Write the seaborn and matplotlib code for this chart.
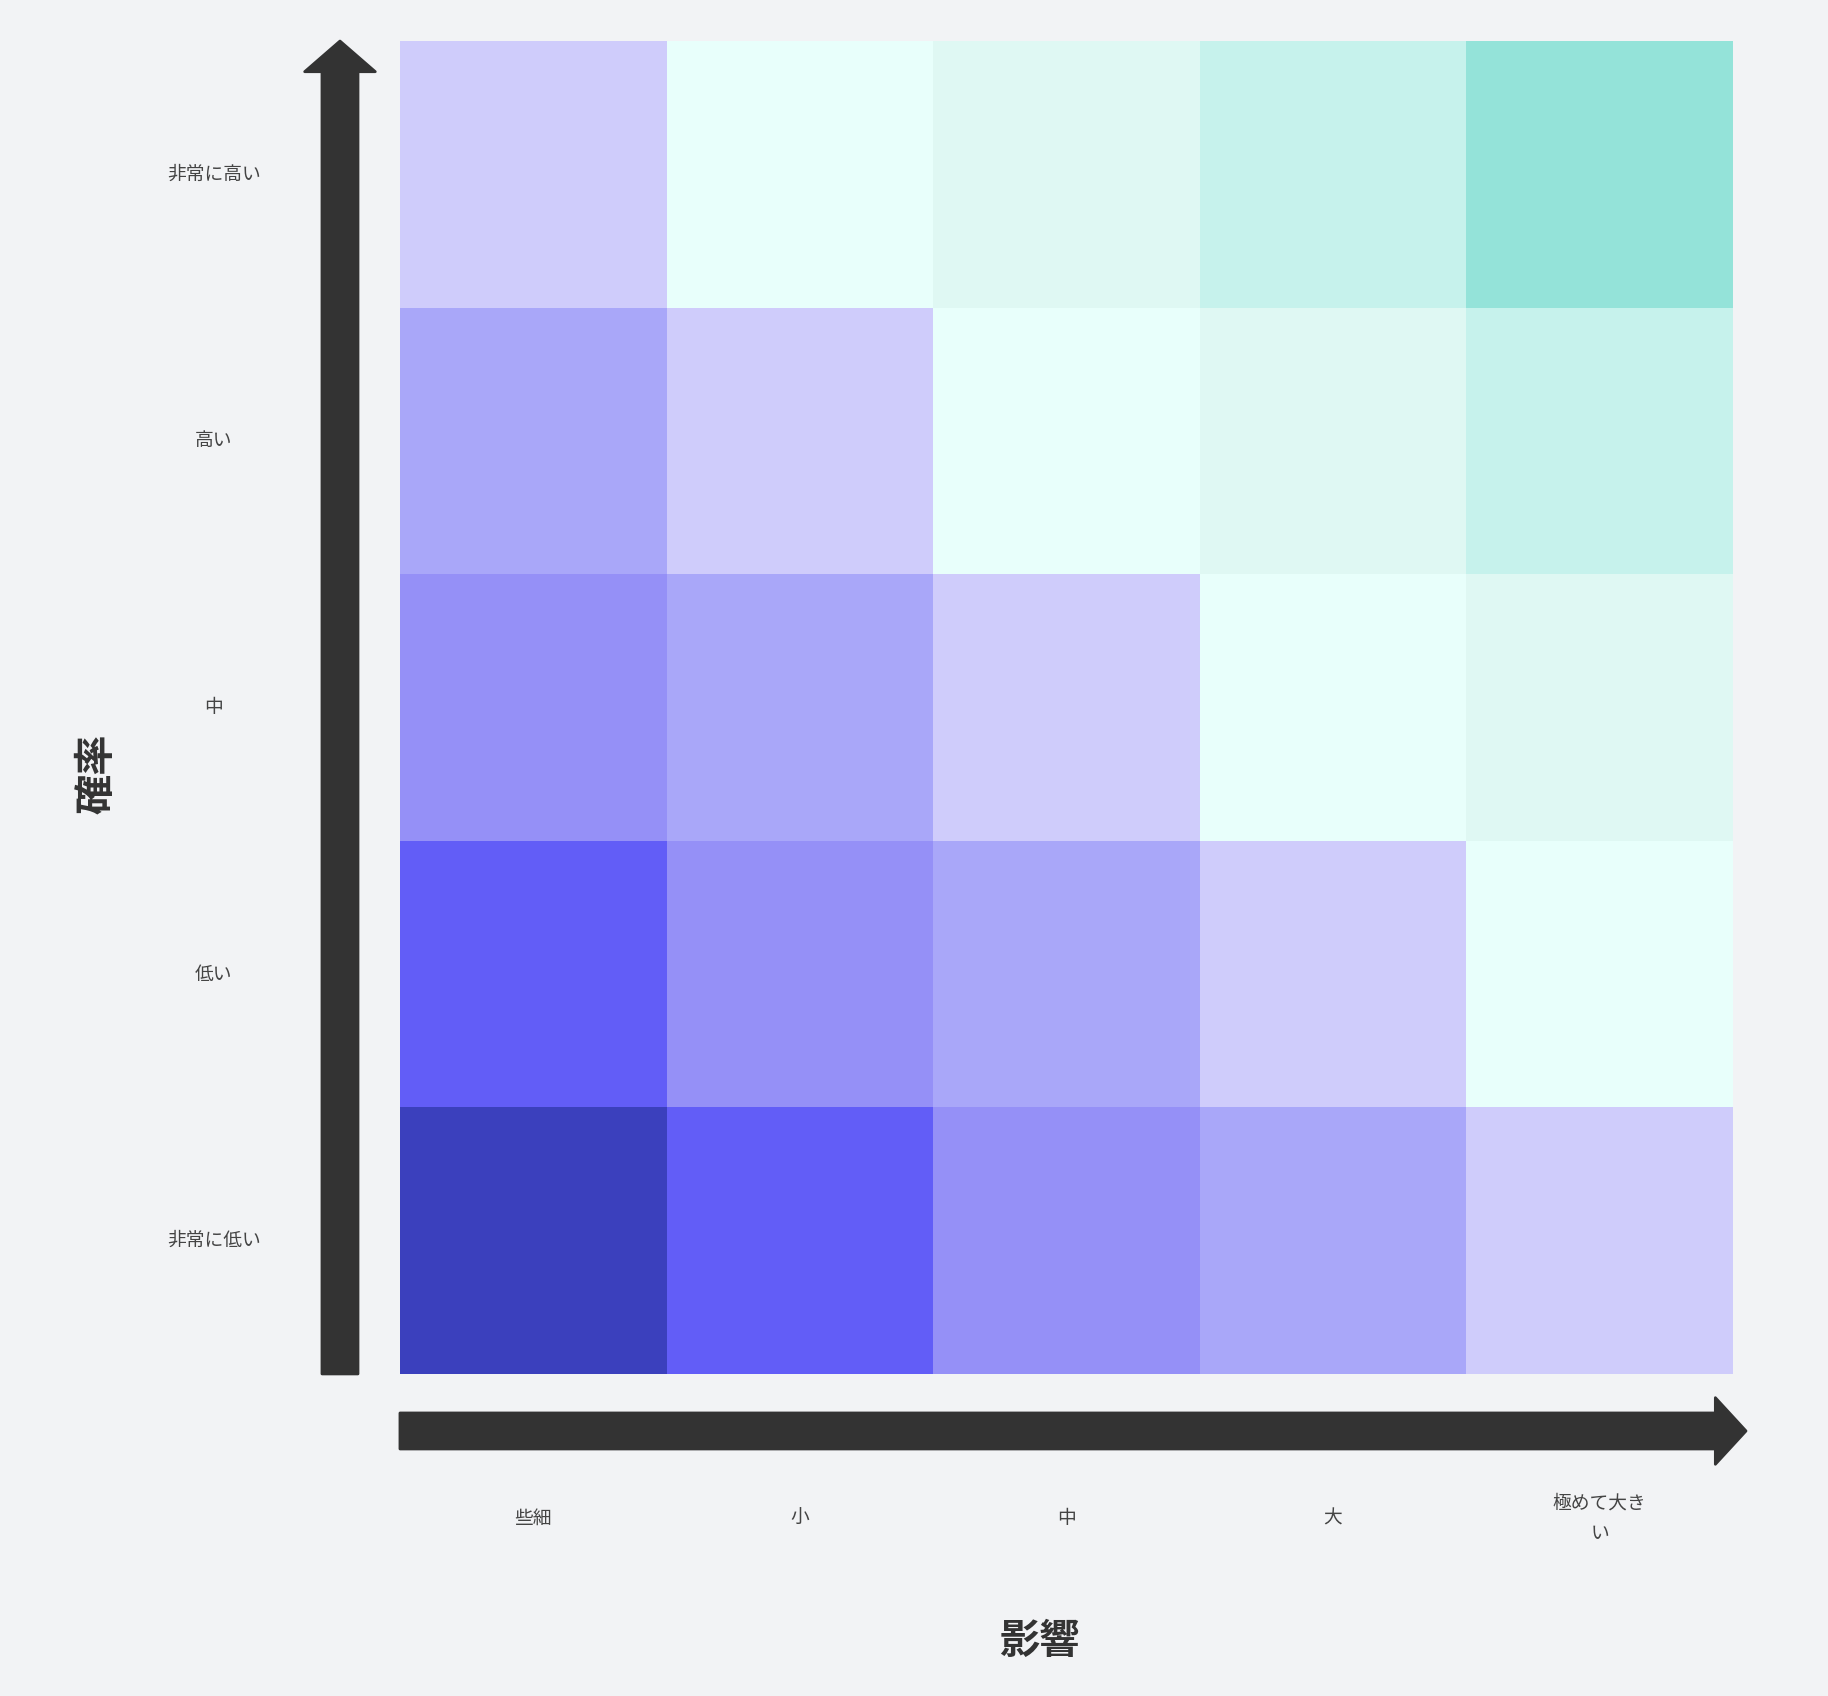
import matplotlib
matplotlib.use("Agg")
import matplotlib.pyplot as plt
from matplotlib.colors import ListedColormap
from matplotlib.patches import FancyArrow
import seaborn as sns
import pandas as pd

# -------------------------------
# Données de la matrice des risques
# -------------------------------
impact_labels = ["些細", "小", "中", "大", "極めて大き\nい"]
prob_labels = ["非常に高い", "高い", "中", "低い", "非常に低い"]  # du haut vers le bas

# niveau de couleur de chaque case (ligne = probabilité, colonne = impact)
row_very_high = [4, 5, 6, 7, 8]
row_high = [3, 4, 5, 6, 7]
row_mid = [2, 3, 4, 5, 6]
row_low = [1, 2, 3, 4, 5]
row_very_low = [0, 1, 2, 3, 4]

level_colors = ["#3B40BD", "#625DF7", "#9590F7", "#A9A7F9", "#CFCCFB",
                "#E8FFFB", "#DFF8F3", "#C6F2EC", "#94E3D9"]

bg = "#F2F3F5"
dark = "#333333"

sns.set_theme(style="white")
plt.rcParams['font.family'] = ['Noto Sans CJK JP', 'DejaVu Sans']

df = pd.DataFrame([row_very_high, row_high, row_mid, row_low, row_very_low],
                  index=prob_labels, columns=impact_labels)

fig = plt.figure(figsize=(18.28, 16.96), dpi=100, facecolor=bg)
ax = fig.add_axes([0.2188, 0.1899, 0.7292, 0.7859])
ax.set_facecolor(bg)

sns.heatmap(df, ax=ax, cmap=ListedColormap(level_colors), vmin=-0.5, vmax=8.5,
            cbar=False, linewidths=0)

ax.tick_params(axis="both", length=0)
ax.set_xticklabels(impact_labels, rotation=0, fontsize=13.5, color="#444444",
                   ha="center", va="center", linespacing=1.6)
ax.tick_params(axis="x", pad=104)
ax.set_yticklabels(prob_labels, rotation=0, fontsize=13.5, color="#444444",
                   ha="center", va="center")
ax.tick_params(axis="y", pad=134)

ax.set_xlabel("影響", fontsize=29, fontweight="bold", color=dark)
ax.xaxis.set_label_coords(0.48, -0.185)
ax.set_ylabel("確率", fontsize=29, fontweight="bold", color=dark)
ax.yaxis.set_label_coords(-0.212, 0.45)

# flèches des axes
up = FancyArrow(-0.045, 0.0, 0, 1.0, width=0.027, head_width=0.053, head_length=0.023,
                length_includes_head=True, transform=ax.transAxes, clip_on=False,
                color=dark, joinstyle="round", linewidth=2)
right = FancyArrow(0.0, -0.0428, 1.0098, 0, width=0.027, head_width=0.05, head_length=0.023,
                   length_includes_head=True, transform=ax.transAxes, clip_on=False,
                   color=dark, joinstyle="round", linewidth=2)
ax.add_patch(up)
ax.add_patch(right)

for s in ax.spines.values():
    s.set_visible(False)

fig.savefig("out.png", dpi=100, facecolor=bg)
